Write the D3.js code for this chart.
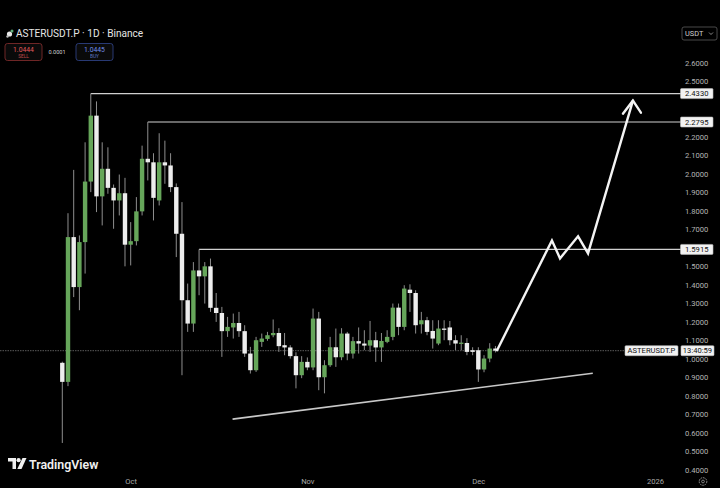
<!DOCTYPE html>
<html><head><meta charset="utf-8">
<script src="https://cdn.jsdelivr.net/npm/d3@7"></script>
<style>html,body{margin:0;background:#000;}svg{display:block}</style>
</head><body>
<svg id="c" width="720" height="488"></svg>
<script>
// ---------------- DATA ----------------
const symbolTitle = "ASTERUSDT.P · 1D · Binance";
const firstCandleDate = "2025-09-19";
const opens  = [0.979,0.876,1.658,1.388,1.631,1.958,2.314,1.878,2.027,1.924,1.856,1.895,1.617,1.636,1.797,2.081,2.062,1.856,2.062,2.045,1.928,1.676,1.317,1.191,1.478,1.446,1.500,1.276,1.248,1.150,1.170,1.194,1.150,1.029,0.939,1.092,1.108,1.128,1.140,1.074,1.062,1.015,0.912,0.984,0.954,1.218,0.901,0.966,1.063,1.009,1.137,1.029,1.096,1.083,1.072,1.101,1.062,1.092,1.119,1.277,1.173,1.374,1.356,1.187,1.209,1.151,1.083,1.164,1.170,1.101,1.083,1.086,1.047,1.047,0.943,1.002,1.056];
const highs  = [0.985,1.787,2.021,1.667,2.170,2.433,2.391,2.170,2.143,1.942,1.996,1.978,1.739,1.874,2.152,2.2795,2.111,2.219,2.179,2.111,1.948,1.847,1.407,1.523,1.5915,1.523,1.542,1.356,1.281,1.227,1.245,1.254,1.182,1.065,1.119,1.137,1.146,1.213,1.166,1.140,1.074,1.036,1.015,1.008,1.272,1.254,0.993,1.119,1.164,1.166,1.146,1.119,1.170,1.155,1.205,1.146,1.140,1.155,1.299,1.299,1.398,1.403,1.371,1.254,1.227,1.209,1.209,1.209,1.205,1.128,1.128,1.112,1.063,1.063,1.020,1.085,1.070];
const lows   = [0.546,0.853,1.334,1.263,1.461,1.901,1.793,1.721,1.892,1.703,1.775,1.500,1.505,1.613,1.775,1.964,1.748,1.829,1.946,1.901,1.550,0.912,1.146,1.146,1.344,1.299,1.254,1.200,1.011,1.119,1.110,1.119,1.011,0.921,0.930,1.065,1.098,1.117,1.038,1.020,1.002,0.841,0.896,0.939,0.939,0.831,0.814,0.957,0.957,0.993,0.993,1.002,1.029,1.047,1.038,0.984,0.984,1.085,1.101,1.128,1.155,1.254,1.137,1.137,1.128,1.056,1.074,1.101,1.074,1.047,1.047,1.020,1.020,0.876,0.928,0.982,1.035];
const closes = [0.876,1.658,1.388,1.631,1.958,2.314,1.878,2.027,1.924,1.856,1.895,1.617,1.636,1.797,2.081,2.062,1.870,2.062,2.045,1.928,1.676,1.317,1.191,1.478,1.446,1.500,1.276,1.248,1.150,1.173,1.194,1.150,1.029,0.939,1.101,1.110,1.128,1.140,1.069,1.062,1.015,0.912,0.984,0.954,1.218,0.901,0.966,1.063,1.009,1.137,1.029,1.096,1.083,1.072,1.101,1.062,1.097,1.119,1.277,1.173,1.380,1.356,1.182,1.209,1.146,1.110,1.164,1.158,1.101,1.083,1.088,1.038,1.038,0.943,1.002,1.056,1.0444];

const yTickValues = [0.4,0.5,0.6,0.7,0.8,0.9,1.0,1.1,1.2,1.3,1.4,1.5,1.6,1.7,1.8,1.9,2.0,2.1,2.2,2.3,2.4,2.5,2.6];
const xTickDates  = ["2025-10-01","2025-11-01","2025-12-01","2026-01-01"];
const xTickLabels = ["Oct","Nov","Dec","2026"];

const levelPrices   = [2.4330, 2.2795, 1.5915];
const levelLabels   = ["2.4330","2.2795","1.5915"];
const levelFromBar  = [5, 15, 24];

const lastPrice = 1.0444;
const lastLabel = "ASTERUSDT.P";
const countdown = "13:40:59";
const sellPrice = "1.0444", buyPrice = "1.0445", spread = "0.0001";

const trendDates  = ["2025-10-18T21:00Z","2025-12-21T02:00Z"];
const trendPrices = [0.675, 0.923];

const arrowDates  = ["2025-12-04T07:00Z","2025-12-13T22:00Z","2025-12-15T08:00Z","2025-12-18T12:00Z","2025-12-20T06:00Z","2025-12-28T03:00Z"];
const arrowPrices = [1.047, 1.640, 1.543, 1.662, 1.570, 2.395];

// ---------------- CHART ----------------
const W = 720, H = 488;
const svg = d3.select("#c");
const font = "Roboto, 'DejaVu Sans', sans-serif";
svg.append("rect").attr("width", W).attr("height", H).attr("fill", "#000");

const t0 = new Date(firstCandleDate + "T00:00Z");
const x = d3.scaleUtc().domain([t0, new Date("2026-01-01T00:00Z")]).range([62.3, 655]);
const y = d3.scaleLinear().domain([0.4, 2.6]).range([470, 62.7]);

const candles = opens.map((o, i) => ({
  d: d3.utcDay.offset(t0, i), o, h: highs[i], l: lows[i], c: closes[i]
}));

// last price line
svg.append("line")
  .attr("x1", 0).attr("x2", 625)
  .attr("y1", y(lastPrice)).attr("y2", y(lastPrice))
  .attr("stroke", "#5a5a5a").attr("stroke-width", 1).attr("stroke-dasharray", "1.5,1");

// level lines
levelPrices.forEach((p, i) => {
  svg.append("line")
    .attr("x1", x(candles[levelFromBar[i]].d)).attr("x2", 681)
    .attr("y1", y(p)).attr("y2", y(p))
    .attr("stroke", "#d0d0d0").attr("stroke-width", 1.1);
});

// trend line
svg.append("line")
  .attr("x1", x(new Date(trendDates[0]))).attr("y1", y(trendPrices[0]))
  .attr("x2", x(new Date(trendDates[1]))).attr("y2", y(trendPrices[1]))
  .attr("stroke", "#c8c8c8").attr("stroke-width", 1.6);

// candles
const bw = 4.4;
const cg = svg.append("g");
cg.selectAll("line").data(candles).join("line")
  .attr("x1", d => x(d.d)).attr("x2", d => x(d.d))
  .attr("y1", d => y(d.h)).attr("y2", d => y(d.l))
  .attr("stroke", "#8e8e8e").attr("stroke-width", 1);
cg.selectAll("rect").data(candles).join("rect")
  .attr("x", d => x(d.d) - bw / 2)
  .attr("y", d => y(Math.max(d.o, d.c)))
  .attr("width", bw)
  .attr("height", d => Math.max(1.3, Math.abs(y(d.o) - y(d.c))))
  .attr("fill", d => d.c >= d.o ? "#66a65a" : "#ededed");

// arrow
const arrowPts = arrowDates.map((d, i) => [x(new Date(d)), y(arrowPrices[i])]);
svg.append("path")
  .attr("d", d3.line()(arrowPts))
  .attr("fill", "none").attr("stroke", "#f4f4f4").attr("stroke-width", 2.4)
  .attr("stroke-linejoin", "miter").attr("stroke-linecap", "round");
const tip = arrowPts[arrowPts.length - 1];
svg.append("path")
  .attr("d", `M${tip[0] - 10},${tip[1] + 13} L${tip[0]},${tip[1]} L${tip[0] + 8},${tip[1] + 12}`)
  .attr("fill", "none").attr("stroke", "#f4f4f4").attr("stroke-width", 2.4)
  .attr("stroke-linejoin", "miter").attr("stroke-linecap", "round");

// right axis (labels hidden where a price box sits on top, as the platform does)
const boxPrices = levelPrices.concat([lastPrice]);
const shownTicks = yTickValues.filter(v => boxPrices.every(p => Math.abs(y(v) - y(p)) >= 8));
const ya = svg.append("g").attr("transform", "translate(682,0)")
  .call(d3.axisRight(y).tickValues(shownTicks).tickSize(0).tickPadding(3).tickFormat(d3.format(".4f")));
ya.select(".domain").remove();
ya.selectAll("text").attr("fill", "#b4b4b4").attr("font-size", 7.6).attr("font-family", font);

// bottom axis
const xa = svg.append("g").attr("transform", "translate(0,476)")
  .call(d3.axisBottom(x).tickValues(xTickDates.map(s => new Date(s + "T00:00Z")))
    .tickSize(0).tickPadding(3).tickFormat((d, i) => xTickLabels[i]));
xa.select(".domain").remove();
xa.selectAll("text").attr("fill", "#a8a8a8").attr("font-size", 7.6).attr("font-family", font);

// price labels
function priceBox(x0, w, cy, label) {
  svg.append("rect").attr("x", x0).attr("y", cy - 5).attr("width", w).attr("height", 10)
    .attr("fill", "#f2f2f2").attr("stroke", "#bbb").attr("stroke-width", 0.6).attr("rx", 1);
  svg.append("text").attr("x", x0 + w / 2).attr("y", cy + 2.7).attr("text-anchor", "middle")
    .attr("font-size", 7.6).attr("font-family", font).attr("fill", "#111").text(label);
}
levelPrices.forEach((p, i) => priceBox(680.5, 32.5, y(p), levelLabels[i]));
priceBox(625, 53, y(lastPrice), lastLabel);
priceBox(681, 33, y(lastPrice), countdown);

// USDT selector
svg.append("rect").attr("x", 682).attr("y", 27).attr("width", 35).attr("height", 13).attr("rx", 2)
  .attr("fill", "#000").attr("stroke", "#5a5a5a").attr("stroke-width", 0.8);
svg.append("text").attr("x", 685).attr("y", 36.4).attr("font-size", 7.4).attr("font-family", font)
  .attr("fill", "#cfcfcf").text("USDT");
svg.append("path").attr("d", "M709,32.5 L711,34.5 L713,32.5").attr("fill", "none")
  .attr("stroke", "#aaa").attr("stroke-width", 0.8);

// header
svg.append("circle").attr("cx", 9.5).attr("cy", 34).attr("r", 2.6).attr("fill", "#e8e8e8");
svg.append("circle").attr("cx", 12).attr("cy", 31).attr("r", 1.5).attr("fill", "#5fb07a");
svg.append("circle").attr("cx", 7.5).attr("cy", 36.5).attr("r", 1.2).attr("fill", "#bbb");
svg.append("text").attr("x", 16).attr("y", 37).attr("font-size", 10.1).attr("font-family", font)
  .attr("fill", "#e6e6e6").text(symbolTitle);

function tradeBox(x0, border, col, price, word) {
  svg.append("rect").attr("x", x0).attr("y", 43.5).attr("width", 37).attr("height", 17).attr("rx", 2.5)
    .attr("fill", "#0a0a0a").attr("stroke", border).attr("stroke-width", 0.9);
  svg.append("text").attr("x", x0 + 18.5).attr("y", 51.6).attr("text-anchor", "middle")
    .attr("font-size", 6.8).attr("font-family", font).attr("fill", col).text(price);
  svg.append("text").attr("x", x0 + 18.5).attr("y", 58.2).attr("text-anchor", "middle")
    .attr("font-size", 4.8).attr("font-family", font).attr("fill", col).attr("opacity", 0.8).text(word);
}
tradeBox(5, "#7a2a2a", "#e0595a", sellPrice, "SELL");
tradeBox(76, "#2c3f80", "#6f8ee8", buyPrice, "BUY");
svg.append("text").attr("x", 57).attr("y", 54).attr("text-anchor", "middle")
  .attr("font-size", 5.6).attr("font-family", font).attr("fill", "#cfcfcf").text(spread);

// TradingView logo
const lg = svg.append("g").attr("transform", "translate(8,458)").attr("fill", "#f0f0f0");
lg.append("path").attr("d", "M0,0 H8 V11 H4.5 V3.6 H0 Z");
lg.append("circle").attr("cx", 10.6).attr("cy", 2.2).attr("r", 2.1);
lg.append("path").attr("d", "M14.5,0 H18.5 L13.5,11 H9.3 Z");
svg.append("text").attr("x", 29).attr("y", 468.5).attr("font-size", 12.4).attr("font-weight", 600)
  .attr("font-family", font).attr("fill", "#f0f0f0").text("TradingView");

// settings gear
svg.append("circle").attr("cx", 703).attr("cy", 481.5).attr("r", 3.8).attr("fill", "none")
  .attr("stroke", "#9a9a9a").attr("stroke-width", 1).attr("stroke-dasharray", "1.6,0.9");
svg.append("circle").attr("cx", 703).attr("cy", 481.5).attr("r", 1.4).attr("fill", "none")
  .attr("stroke", "#9a9a9a").attr("stroke-width", 0.8);
</script>
</body></html>
